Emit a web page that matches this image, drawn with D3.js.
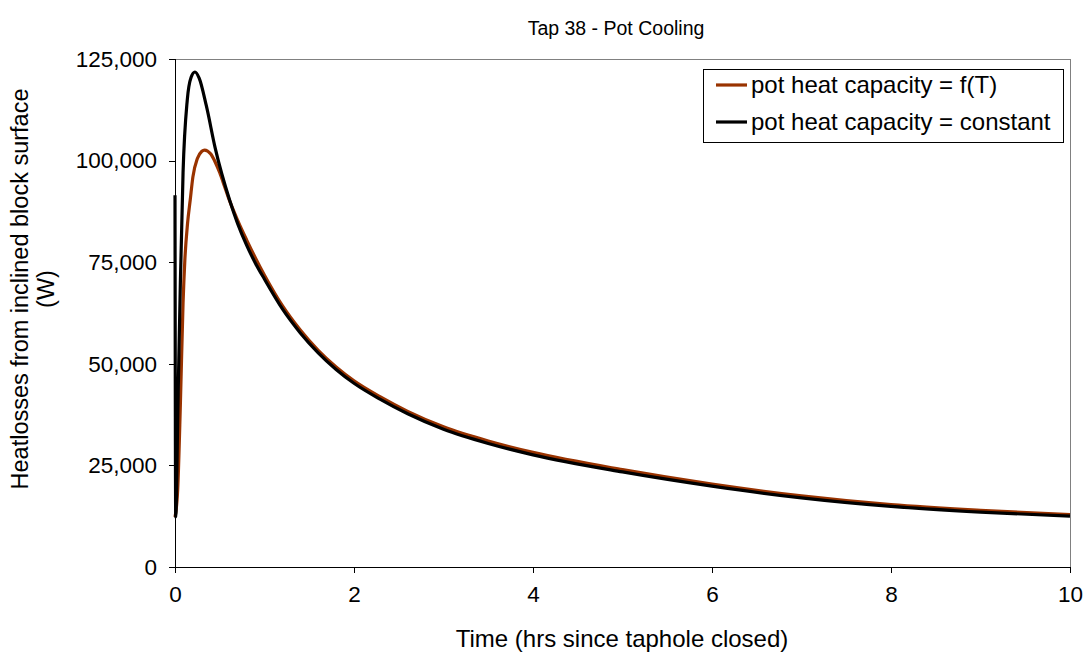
<!DOCTYPE html>
<html>
<head>
<meta charset="utf-8">
<script src="https://cdn.jsdelivr.net/npm/d3@7"></script>
<style>
  html, body { margin: 0; padding: 0; background: #fff; }
  svg { display: block; font-family: "Liberation Sans", Arial, sans-serif; }
</style>
</head>
<body>
<svg id="chart" width="1088" height="654"></svg>
<script>
const titleText = "Tap 38 - Pot Cooling";
const xTitle = "Time (hrs since taphole closed)";
const yTitleLines = ["Heatlosses from inclined block surface", "(W)"];
const seriesNames = ["pot heat capacity = f(T)", "pot heat capacity = constant"];
const seriesColors = ["#993300", "#000000"];

const xTicks = [0, 2, 4, 6, 8, 10];
const yTicks = [0, 25000, 50000, 75000, 100000, 125000];

// pot heat capacity = f(T)
const timeFT = [0, 0.03, 0.06, 0.09, 0.11, 0.14, 0.17, 0.2, 0.25, 0.3, 0.33, 0.4, 0.45, 0.5, 0.55, 0.6, 0.7, 0.8, 0.9, 1.0, 1.2, 1.4, 1.6, 1.8, 2.0, 2.29, 2.6, 3.0, 3.5, 4.0, 5.0, 6.0, 7.0, 8.0, 9.0, 10];
const heatFT = [12300, 19000, 40000, 65000, 75500, 84500, 90300, 96000, 100500, 102300, 102600, 101600, 99600, 97000, 93900, 90700, 85300, 80500, 76000, 71800, 64300, 58300, 53300, 49200, 45800, 41900, 38300, 34500, 31000, 28200, 23950, 20400, 17500, 15350, 13950, 12900];

// pot heat capacity = constant
const timeConst = [0, 0.008, 0.033, 0.06, 0.09, 0.137, 0.18, 0.223, 0.27, 0.35, 0.45, 0.61, 0.7, 0.8, 0.9, 1.0, 1.2, 1.4, 1.6, 1.8, 2.0, 2.29, 2.6, 3.0, 3.5, 4.0, 5.0, 6.0, 7.0, 8.0, 9.0, 10];
const heatConst = [91500, 12300, 40000, 70000, 97000, 114900, 120500, 121800, 120300, 113500, 103000, 90300, 84500, 79200, 74700, 70800, 63500, 57600, 52700, 48600, 45200, 41300, 37700, 33900, 30400, 27600, 23400, 19900, 17000, 14900, 13500, 12500];

const svg = d3.select("#chart");
const L = 175, R = 1070, T = 59, B = 567;

const x = d3.scaleLinear().domain([0, 10]).range([L, R]);
const y = d3.scaleLinear().domain([0, 125000]).range([B, T]);

// plot border (top/right)
svg.append("rect")
  .attr("x", L).attr("y", T).attr("width", R - L).attr("height", B - T)
  .attr("fill", "none").attr("stroke", "#808080").attr("stroke-width", 1)
  .attr("shape-rendering", "crispEdges");

// axes
const xAxis = d3.axisBottom(x).tickValues(xTicks).tickSize(6).tickPadding(13).tickFormat(d3.format("d"));
const yAxis = d3.axisLeft(y).tickValues(yTicks).tickSize(6).tickPadding(12).tickFormat(d3.format(","));

const gx = svg.append("g").attr("transform", `translate(0,${B})`).call(xAxis);
const gy = svg.append("g").attr("transform", `translate(${L},0)`).call(yAxis);
[gx, gy].forEach(g => {
  g.select(".domain").attr("stroke", "#000").attr("shape-rendering", "crispEdges");
  g.selectAll(".tick line").attr("stroke", "#000").attr("shape-rendering", "crispEdges");
  g.selectAll("text").attr("font-family", "Liberation Sans, Arial, sans-serif")
    .attr("font-size", 22.5).attr("fill", "#000");
});

// lines
const series = [
  { name: seriesNames[0], color: seriesColors[0], data: timeFT.map((t, i) => [t, heatFT[i]]) },
  { name: seriesNames[1], color: seriesColors[1], data: timeConst.map((t, i) => [t, heatConst[i]]) }
];
const line = d3.line().x(d => x(d[0])).y(d => y(d[1])).curve(d3.curveMonotoneX);
series.forEach(s => {
  svg.append("path").datum(s.data)
    .attr("d", line).attr("fill", "none")
    .attr("stroke", s.color).attr("stroke-width", 3.2)
    .attr("stroke-linejoin", "round");
});

// title
svg.append("text").attr("x", 616).attr("y", 35).attr("text-anchor", "middle")
  .attr("font-size", 19.5).text(titleText);

// x title
svg.append("text").attr("x", 622).attr("y", 647).attr("text-anchor", "middle")
  .attr("font-size", 24).text(xTitle);

// y title
const yt = svg.append("text").attr("transform", "translate(0,289) rotate(-90)")
  .attr("text-anchor", "middle").attr("font-size", 23.5);
yTitleLines.forEach((ln, i) => {
  yt.append("tspan").attr("x", 0).attr("y", 28 + i * 26).text(ln);
});

// legend
const lg = svg.append("g");
lg.append("rect").attr("x", 703.5).attr("y", 69.5).attr("width", 360).attr("height", 73)
  .attr("fill", "#fff").attr("stroke", "#000").attr("stroke-width", 1);
series.forEach((s, i) => {
  const cy = 85 + i * 37;
  lg.append("line").attr("x1", 716).attr("x2", 747).attr("y1", cy).attr("y2", cy)
    .attr("stroke", s.color).attr("stroke-width", 3.2);
  lg.append("text").attr("x", 751).attr("y", cy).attr("dy", "0.35em")
    .attr("font-size", 24).text(s.name);
});
</script>
</body>
</html>
